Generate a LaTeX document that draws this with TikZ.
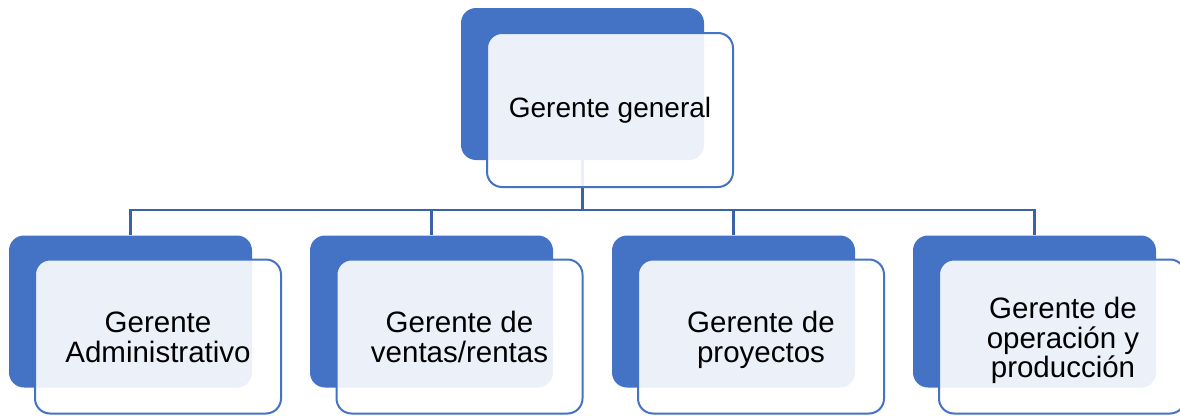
\documentclass[tikz,border=0pt]{standalone}
\usepackage{fontspec}
\setmainfont{Liberation Sans}
\definecolor{accent}{HTML}{4472C4}
\definecolor{conn}{HTML}{3A62AA}
\begin{document}
\begin{tikzpicture}[x=1pt,y=-1pt,
  back/.style={fill=accent, rounded corners=15pt, inner sep=0pt, minimum width=243pt, minimum height=152pt},
  front/.style={draw=accent, line width=2pt, fill=white, fill opacity=0.9, draw opacity=1,
    rounded corners=15pt, inner sep=0pt, minimum width=246pt, minimum height=154pt},
  toplbl/.style={font=\fontsize{28}{29.5}\selectfont, align=center, text=black, inner sep=0pt},
  lbl/.style={font=\fontsize{29.5}{29.8}\selectfont, align=center, text=black, inner sep=0pt, text depth=0pt},
  connector/.style={draw=conn, line width=2.5pt}]
\useasboundingbox (0,0) rectangle (1180,415);
% back boxes
\node[back] (gg) at (582.5,84) {};
\node[back] (c1) at (130.5,311.5) {};
\node[back] (c2) at (431.5,311.5) {};
\node[back] (c3) at (733.5,311.5) {};
\node[back] (c4) at (1034.5,311.5) {};
% connectors
\draw[connector] (gg.south) -- ++(0,50) coordinate (j) -| (c1.north);
\draw[connector] (j) -| (c2.north);
\draw[connector] (j) -| (c3.north);
\draw[connector] (j) -| (c4.north);
% front boxes
\node[front] (ggf) at (610,110) {};
\node[front] (c1f) at (158,336.5) {};
\node[front] (c2f) at (459.5,336.5) {};
\node[front] (c3f) at (761,336.5) {};
\node[front] (c4f) at (1062,336.5) {};
% texts
\node[lbl] (t1) at (158,336.8) {Gerente\\Administrativo};
\node[toplbl] (t0) at (ggf.center) {Gerente general};
\node[lbl] (t2) at (459.5,336.8) {Gerente de\\ventas/rentas};
\node[lbl] (t3) at (761,336.8) {Gerente de\\proyectos};
\node[lbl] (t4) at (1063,337.5) {Gerente de\\operación y\\producción};
\end{tikzpicture}
\end{document}
